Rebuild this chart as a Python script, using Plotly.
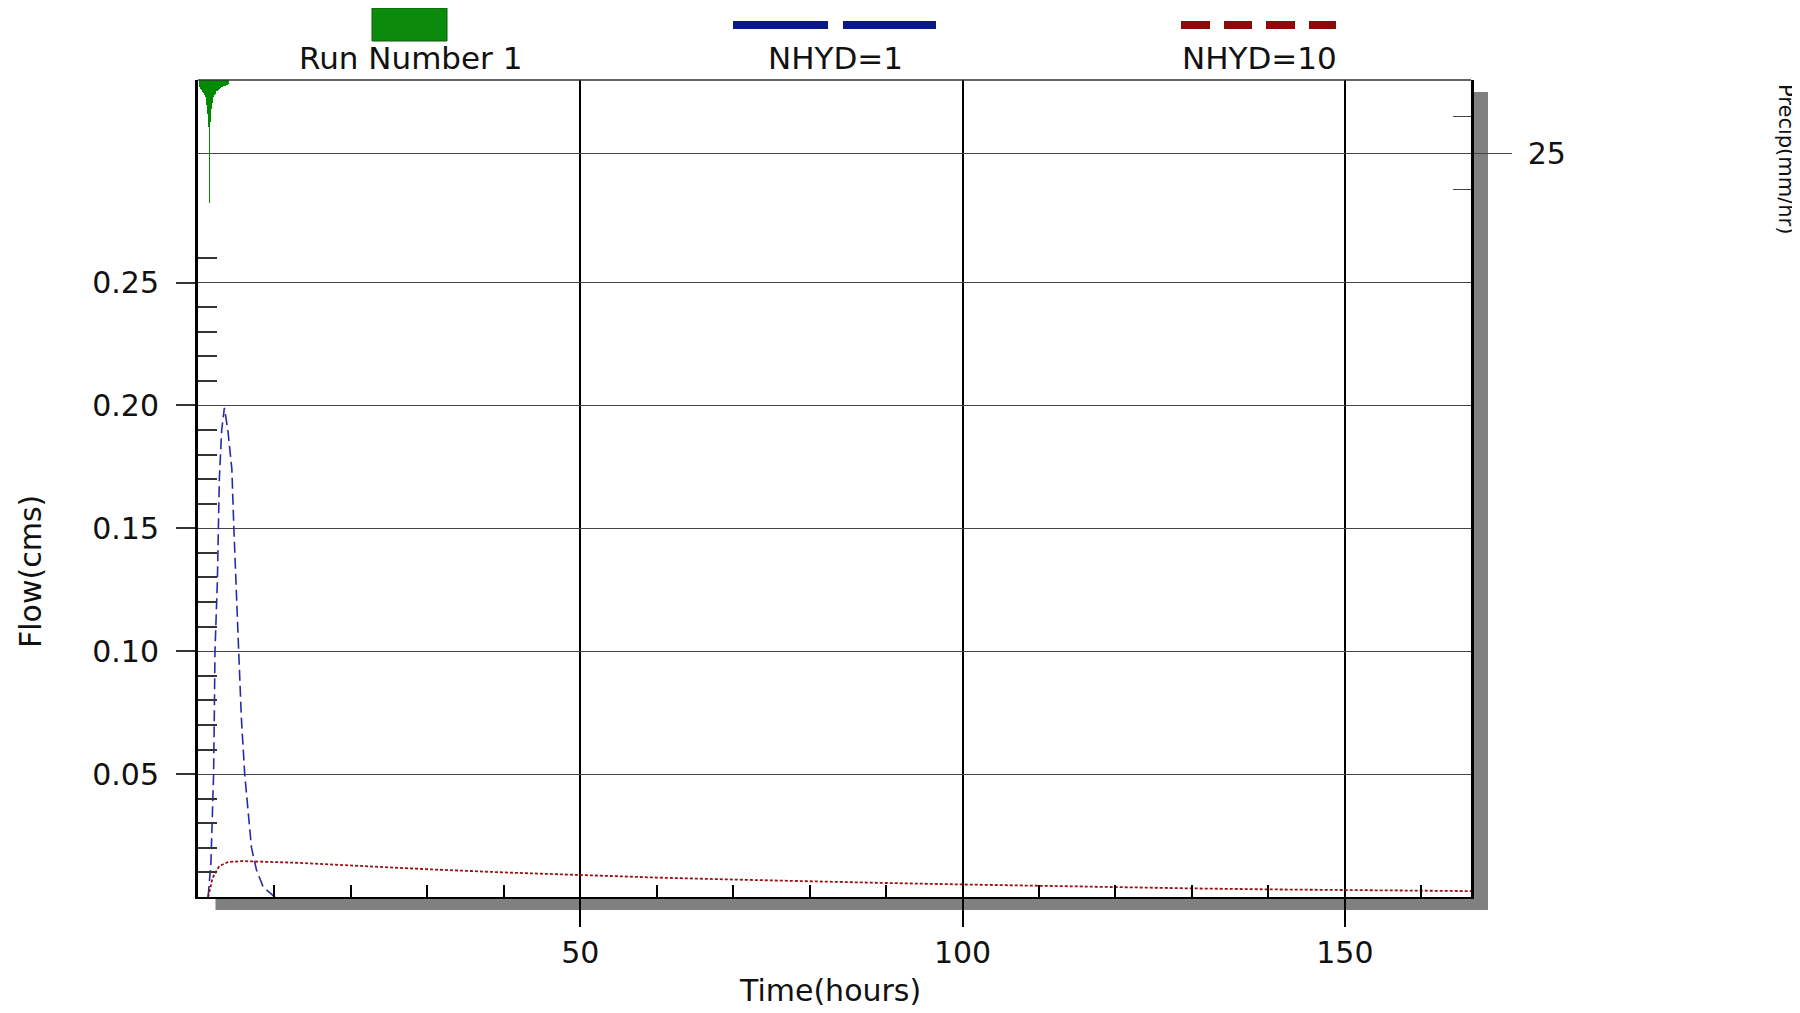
import plotly.graph_objects as go

# rainfall hyetograph, mm/hr, hung from the top of the chart
rain_time = [0.3, 0.4, 0.5, 0.6, 0.7, 0.8, 0.9, 1.0, 1.1, 1.2, 1.3, 1.4, 1.5,
             1.6, 1.7, 1.8, 1.9, 2.0, 2.1, 2.2, 2.3, 2.4, 2.5, 2.6, 2.7, 2.8,
             2.9, 3.0, 3.1, 3.2, 3.3, 3.4, 3.5, 3.6, 3.7, 3.8, 3.9, 4.0]
rain_rate = [2.5, 3.0, 3.3, 3.6, 4.0, 4.4, 5.0, 5.8, 7.0, 8.5, 11.5, 16.0, 42.0,
             14.5, 10.0, 7.8, 6.6, 5.8, 5.2, 4.7, 4.3, 3.9, 3.6, 3.3, 3.1, 2.9,
             2.7, 2.5, 2.4, 2.2, 2.1, 2.0, 1.9, 1.8, 1.7, 1.6, 1.5, 1.4]

# hydrograph NHYD=1
nhyd1_time = [1.30, 1.38, 1.69, 1.91, 2.04, 2.13, 2.22, 2.53, 2.66, 2.79, 3.10,
              3.45, 3.90, 4.43, 4.69, 5.00, 5.31, 5.67, 6.11, 6.64, 7.00, 7.65,
              8.54, 9.87, 10.2]
nhyd1_flow = [0.0, 0.002, 0.014, 0.032, 0.050, 0.073, 0.100, 0.128, 0.150, 0.170,
              0.190, 0.199, 0.190, 0.174, 0.150, 0.128, 0.101, 0.073, 0.050,
              0.032, 0.020, 0.011, 0.004, 0.0005, 0.0]

# hydrograph NHYD=10
nhyd10_time = [1.33, 1.91, 2.79, 3.9, 5.67, 8.77, 12.3, 15, 20, 30, 40, 50, 60,
               70, 80, 90, 100, 110, 120, 130, 140, 150, 160, 166.5]
nhyd10_flow = [0.0, 0.0078, 0.0126, 0.0142, 0.0146, 0.0144, 0.0140, 0.0136,
               0.0128, 0.0113, 0.0100, 0.0088, 0.0079, 0.0071, 0.0063, 0.0057,
               0.0051, 0.0045, 0.0040, 0.0035, 0.0031, 0.0029, 0.0025, 0.0024]

time_ticks = [50, 100, 150]
time_minor = [10, 20, 30, 40, 60, 70, 80, 90, 110, 120, 130, 140, 160]
flow_ticks = [0.05, 0.10, 0.15, 0.20, 0.25]
flow_labels = ["0.05", "0.10", "0.15", "0.20", "0.25"]
flow_minor = [0.01, 0.02, 0.03, 0.04, 0.06, 0.07, 0.08, 0.09, 0.11, 0.12,
              0.13, 0.14, 0.16, 0.17, 0.18, 0.19, 0.21, 0.22, 0.23, 0.24, 0.26]
precip_ticks = [25]
precip_minor = [12.5, 37.5]

FONT = "DejaVu Sans"
W, H = 1800, 1013
OFF = 8  # the page body margin shifts the figure by this much
# plot box, in page pixels
L, R, T, B = 198, 1471, 80, 897


def px(x):
    return (x - L) / (R - L)


def py(y):
    return (B - y) / (B - T)


fig = go.Figure()

fig.add_trace(go.Bar(x=rain_time, y=rain_rate, width=0.1, yaxis="y2",
                     marker=dict(color="#008a00", line=dict(width=0)),
                     showlegend=False))
fig.add_trace(go.Scatter(x=nhyd1_time, y=nhyd1_flow, mode="lines",
                         line=dict(color="#2a2aa6", width=1.6, dash="11px,5px"),
                         showlegend=False))
fig.add_trace(go.Scatter(x=nhyd10_time, y=nhyd10_flow, mode="lines",
                         line=dict(color="#9a0f0f", width=1.8, dash="3px,2px"),
                         showlegend=False))

shapes = [
    # drop shadow behind the plot box, then the white box itself
    dict(type="rect", xref="paper", yref="paper", layer="below",
         x0=px(215.5), x1=px(1488), y0=py(910), y1=py(92),
         fillcolor="#808080", line=dict(width=0)),
    dict(type="rect", xref="paper", yref="paper", layer="below",
         x0=0, x1=1, y0=0, y1=1, fillcolor="white", line=dict(width=0)),
    # top border
    dict(type="line", xref="paper", yref="paper", x0=0, x1=1, y0=1, y1=1,
         line=dict(color="#333333", width=1.5)),
    # legend samples
    dict(type="rect", xref="paper", yref="paper",
         x0=px(372), x1=px(447), y0=py(41), y1=py(8),
         fillcolor="#0b8a0b", line=dict(color="#06600a", width=1)),
]
for a, b in [(733, 828), (843, 936)]:
    shapes.append(dict(type="line", xref="paper", yref="paper",
                       x0=px(a), x1=px(b), y0=py(25), y1=py(25),
                       line=dict(color="#0a1a84", width=8)))
for a, b in [(1181, 1210), (1224, 1252), (1266, 1295), (1309, 1336)]:
    shapes.append(dict(type="line", xref="paper", yref="paper",
                       x0=px(a), x1=px(b), y0=py(25), y1=py(25),
                       line=dict(color="#8b0a0a", width=8)))

text_font = dict(family=FONT, size=31, color="#111111")
annotations = [
    dict(text="Run Number 1", x=px(410), y=py(58)),
    dict(text="NHYD=1", x=px(835), y=py(58)),
    dict(text="NHYD=10", x=px(1259), y=py(58)),
    dict(text="Time(hours)", x=px(830), y=py(991),
         font=dict(family=FONT, size=30, color="#111111")),
    dict(text="Flow(cms)", x=px(30), y=py(572), textangle=-90,
         font=dict(family=FONT, size=30, color="#111111")),
    dict(text="Precip(mm/hr)", x=px(1786), y=py(159), textangle=90,
         font=dict(family=FONT, size=21, color="#111111")),
]
for ann in annotations:
    ann.update(xref="paper", yref="paper", showarrow=False,
               xanchor="center", yanchor="middle")
    ann.setdefault("font", text_font)

fig.update_layout(
    width=W, height=H,
    margin=dict(l=L - OFF, r=W - R + OFF, t=T - OFF, b=H - B + OFF, pad=0),
    paper_bgcolor="white",
    plot_bgcolor="rgba(0,0,0,0)",
    font=dict(family=FONT, size=30, color="#111111"),
    bargap=0,
    shapes=shapes,
    annotations=annotations,
    xaxis=dict(range=[0, 166.5], tickmode="array", tickvals=time_ticks,
               ticks="outside", ticklen=28, tickwidth=2, tickcolor="black",
               ticklabelstandoff=0,
               showgrid=True, gridcolor="black", gridwidth=2,
               showline=True, linecolor="black", linewidth=2, zeroline=False,
               minor=dict(tickmode="array", tickvals=time_minor, ticks="inside",
                          ticklen=12, tickwidth=2, tickcolor="black",
                          showgrid=False)),
    yaxis=dict(range=[0, 0.3324], tickmode="array", tickvals=flow_ticks,
               ticktext=flow_labels, ticks="outside", ticklen=19,
               tickwidth=1.5, tickcolor="#333333", ticklabelstandoff=11,
               showgrid=True, gridcolor="#444444", gridwidth=1.2,
               showline=True, linecolor="black", linewidth=3, zeroline=False,
               minor=dict(tickmode="array", tickvals=flow_minor, ticks="inside",
                          ticklen=19, tickwidth=1.5, tickcolor="#333333",
                          showgrid=False)),
    yaxis2=dict(range=[279, 0], overlaying="y", side="right",
                tickmode="array", tickvals=precip_ticks, ticks="outside",
                ticklen=38, tickwidth=1.2, tickcolor="#444444",
                ticklabelstandoff=10,
                showgrid=True, gridcolor="#444444", gridwidth=1.2,
                showline=True, linecolor="black", linewidth=2.5,
                zeroline=False,
                minor=dict(tickmode="array", tickvals=precip_minor,
                           ticks="inside", ticklen=18, tickwidth=1.2,
                           tickcolor="#444444", showgrid=False)),
)

fig.write_html("out.html")
